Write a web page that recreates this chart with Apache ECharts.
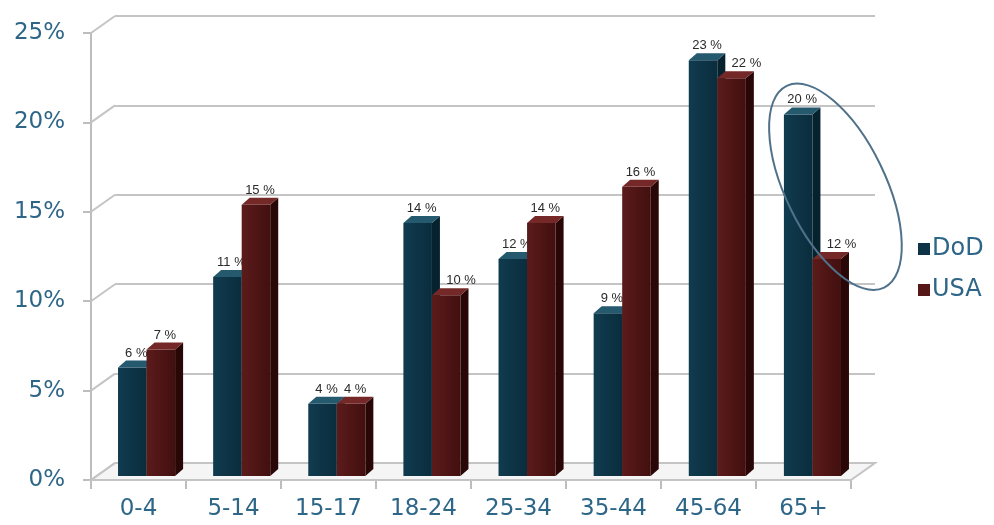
<!DOCTYPE html>
<html>
<head>
<meta charset="utf-8">
<script src="https://cdn.jsdelivr.net/npm/echarts@6/dist/echarts.min.js"></script>
<style>
  html, body { margin: 0; padding: 0; background: #ffffff; }
  #chart { width: 994px; height: 525px; }
</style>
</head>
<body>
<div id="chart"></div>
<script>
const categories = ['0-4', '5-14', '15-17', '18-24', '25-34', '35-44', '45-64', '65+']
const dodValues = [6, 11, 4, 14, 12, 9, 23, 20]
const usaValues = [7, 15, 4, 10, 14, 16, 22, 12]
const yTicks = [0, 5, 10, 15, 20, 25]

// perspective offsets
const BAR_DX = 8
const BAR_DY = 7
const WALL_DX = 24
const WALL_DY = 17

const LABEL_COLOR = '#2e6688'
const FONT = 'DejaVu Sans'

const colors = {
    DoD: { front: ['#103b4f', '#0a2d3d'], top: '#24596e', side: '#06222f' },
    USA: { front: ['#5c1b1b', '#420f0f'], top: '#742828', side: '#2a0707' },
}

function barRenderer(name, slot) {
    const c = colors[name]
    return function (params, api) {
        const cat = api.value(0)
        const v = api.value(1)
        const base = api.coord([cat, 0])
        const top = api.coord([cat, v])
        const band = api.size([1, 0])[0]
        const w = band * 0.3
        const x0 = base[0] + (slot === 0 ? -w : 0)
        const x1 = x0 + w
        const yT = top[1]
        const yB = base[1]
        // USA label moves right when the DoD bar next to it is taller
        const pushRight = slot === 1 && dodValues[cat] > v
        return {
            type: 'group',
            children: [
                {
                    type: 'polygon',
                    shape: { points: [[x1, yT], [x1 + BAR_DX, yT - BAR_DY], [x1 + BAR_DX, yB - BAR_DY], [x1, yB]] },
                    style: { fill: c.side },
                },
                {
                    type: 'rect',
                    shape: { x: x0, y: yT, width: w, height: yB - yT },
                    style: {
                        fill: new echarts.graphic.LinearGradient(0, 0, 1, 0, [
                            { offset: 0, color: c.front[0] },
                            { offset: 1, color: c.front[1] },
                        ]),
                    },
                },
                {
                    type: 'polygon',
                    shape: { points: [[x0, yT], [x1, yT], [x1 + BAR_DX, yT - BAR_DY], [x0 + BAR_DX, yT - BAR_DY]] },
                    style: { fill: c.top },
                },
                {
                    type: 'text',
                    style: {
                        text: v + ' %',
                        x: pushRight ? (x0 + x1) / 2 : (x0 + x1) / 2 + BAR_DX / 2,
                        y: yT - BAR_DY - 1,
                        align: pushRight ? 'left' : 'center',
                        verticalAlign: 'bottom',
                        fill: '#2a2a2a',
                        font: '13px "Liberation Sans Narrow", "Liberation Sans", sans-serif',
                    },
                },
            ],
        }
    }
}

function wallRenderer(params, api) {
    const v = api.value(1)
    const p = api.coord([0, v])
    const children = []
    if (v === 0) {
        const pr = api.coord([1, 0])
        children.push({
            type: 'polygon',
            shape: { points: [[p[0] - WALL_DX, p[1] + WALL_DY], [p[0], p[1]], [pr[0], pr[1]], [pr[0] - WALL_DX, pr[1] + WALL_DY]] },
            style: { fill: '#f5f5f5', stroke: '#c4c4c4', lineWidth: 2 },
        })
    }
    children.push({
        type: 'polyline',
        shape: { points: [[p[0] - WALL_DX, p[1] + WALL_DY], [p[0], p[1]]] },
        style: { stroke: '#c4c4c4', lineWidth: 2, fill: null },
    })
    return { type: 'group', children: children }
}

const chart = echarts.init(document.getElementById('chart'), null, { renderer: 'canvas' })

const option = {
    animation: false,
    backgroundColor: '#ffffff',
    grid: [
        // back wall
        { left: 115, right: 119, top: 16, bottom: 62 },
        // front axes
        { left: 91, right: 143, top: 33, bottom: 45 },
        // bars
        { left: 99, right: 134, top: 24, bottom: 49 },
    ],
    legend: {
        data: ['DoD', 'USA'],
        orient: 'vertical',
        left: 913,
        top: 232,
        icon: 'rect',
        itemWidth: 12,
        itemHeight: 12,
        itemGap: 17,
        textStyle: { fontFamily: FONT, fontSize: 24, color: LABEL_COLOR, padding: [0, 0, 0, -3] },
    },
    xAxis: [
        { gridIndex: 0, type: 'value', min: 0, max: 1, show: false },
        {
            gridIndex: 1,
            type: 'category',
            data: categories,
            boundaryGap: true,
            axisLine: { show: true, lineStyle: { color: '#bdbdbd', width: 2 } },
            axisTick: { show: true, length: 9, lineStyle: { color: '#bdbdbd', width: 2 } },
            axisLabel: { fontFamily: FONT, fontSize: 23, color: LABEL_COLOR, margin: 18 },
        },
        { gridIndex: 2, type: 'category', data: categories, show: false },
    ],
    yAxis: [
        {
            gridIndex: 0,
            type: 'value',
            min: 0,
            max: 25,
            interval: 5,
            axisLine: { show: false },
            axisTick: { show: false },
            axisLabel: { show: false },
            splitLine: { show: true, lineStyle: { color: '#c4c4c4', width: 2 } },
        },
        {
            gridIndex: 1,
            type: 'value',
            min: 0,
            max: 25,
            interval: 5,
            axisLine: { show: true, lineStyle: { color: '#bdbdbd', width: 2 } },
            axisTick: { show: true, length: 8, lineStyle: { color: '#bdbdbd', width: 2 } },
            axisLabel: { formatter: '{value}%', fontFamily: FONT, fontSize: 23, color: LABEL_COLOR, margin: 26 },
            splitLine: { show: false },
        },
        { gridIndex: 2, type: 'value', min: 0, max: 25, show: false },
    ],
    series: [
        {
            name: 'walls',
            type: 'custom',
            xAxisIndex: 0,
            yAxisIndex: 0,
            z: 1,
            silent: true,
            renderItem: wallRenderer,
            data: yTicks.map((v) => [0, v]),
        },
        {
            name: 'DoD',
            type: 'custom',
            xAxisIndex: 2,
            yAxisIndex: 2,
            z: 3,
            itemStyle: { color: '#0d3446' },
            renderItem: barRenderer('DoD', 0),
            data: dodValues.map((v, i) => [i, v]),
        },
        {
            name: 'USA',
            type: 'custom',
            xAxisIndex: 2,
            yAxisIndex: 2,
            z: 4,
            itemStyle: { color: '#551717' },
            renderItem: barRenderer('USA', 1),
            data: usaValues.map((v, i) => [i, v]),
        },
    ],
}

chart.setOption(option)

// highlight ellipse around the 65+ group
const anchor = chart.convertToPixel({ xAxisIndex: 2, yAxisIndex: 2 }, [categories.length - 1, 16])
chart.setOption({
    graphic: [
        {
            type: 'ellipse',
            x: anchor[0] + 23,
            y: anchor[1],
            rotation: 0.45,
            shape: { cx: 0, cy: 0, rx: 50, ry: 112 },
            style: { fill: null, stroke: '#4f7189', lineWidth: 2 },
            z: 10,
        },
    ],
})
</script>
</body>
</html>
